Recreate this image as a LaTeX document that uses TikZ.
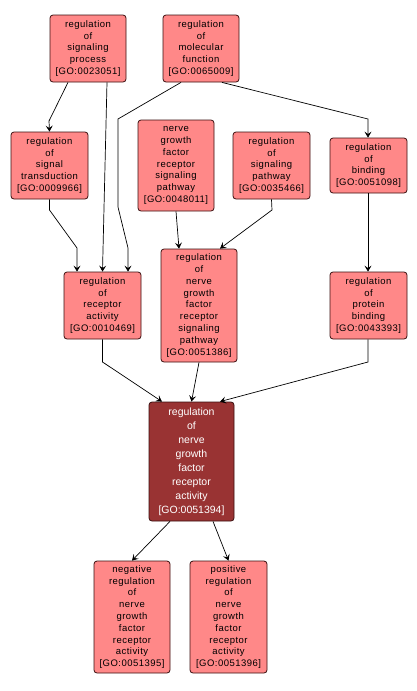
\documentclass[tikz,border=0pt]{standalone}
\usepackage{fontspec}
\setmainfont{Liberation Sans}
\newfontfamily\spacedsans[LetterSpace=5]{Liberation Sans}
\usetikzlibrary{arrows.meta}
\definecolor{lightbox}{HTML}{FF8888}
\definecolor{darkbox}{HTML}{993333}
\definecolor{boxline}{HTML}{3A1010}
\begin{document}
\begin{tikzpicture}[x=1pt,y=-1pt,
  gobox/.style={draw=boxline,line width=0.8pt,rounded corners=3pt,fill=lightbox,
    align=center,inner sep=0pt,font=\spacedsans\fontsize{9.5}{11.8}\selectfont,text=black},
  mainbox/.style={gobox,fill=darkbox,text=white,font=\rmfamily\fontsize{10.5}{14}\selectfont},
  arr/.style={draw=black,line width=0.7pt,-{Stealth[length=6pt,width=7pt,inset=2.5pt]}}]
\useasboundingbox (0,0) rectangle (417,691);
\fill[white] (0,0) rectangle (417,691);

\node[gobox,minimum width=76pt,minimum height=67pt] (A) at (88,48.5) {regulation\\of\\signaling\\process\\{[GO:0023051]}};
\node[gobox,minimum width=76pt,minimum height=67pt] (B) at (201,48.5) {regulation\\of\\molecular\\function\\{[GO:0065009]}};
\node[gobox,minimum width=77pt,minimum height=67pt] (C) at (49.5,165.5) {regulation\\of\\signal\\transduction\\{[GO:0009966]}};
\node[gobox,minimum width=76pt,minimum height=91pt] (D) at (176,165.5) {nerve\\growth\\factor\\receptor\\signaling\\pathway\\{[GO:0048011]}};
\node[gobox,minimum width=77pt,minimum height=67pt] (E) at (271.5,165.5) {regulation\\of\\signaling\\pathway\\{[GO:0035466]}};
\node[gobox,minimum width=77pt,minimum height=55pt] (F) at (368.5,165.5) {regulation\\of\\binding\\{[GO:0051098]}};
\node[gobox,minimum width=77pt,minimum height=67pt] (G) at (102.5,305.5) {regulation\\of\\receptor\\activity\\{[GO:0010469]}};
\node[gobox,minimum width=76pt,minimum height=113pt] (H) at (199,305.5) {regulation\\of\\nerve\\growth\\factor\\receptor\\signaling\\pathway\\{[GO:0051386]}};
\node[gobox,minimum width=77pt,minimum height=67pt] (I) at (368.5,305.5) {regulation\\of\\protein\\binding\\{[GO:0043393]}};
\node[mainbox,minimum width=85pt,minimum height=119pt] (J) at (191.5,461.5) {regulation\\of\\nerve\\growth\\factor\\receptor\\activity\\{[GO:0051394]}};
\node[gobox,minimum width=76pt,minimum height=112pt] (K) at (132,617) {negative\\regulation\\of\\nerve\\growth\\factor\\receptor\\activity\\{[GO:0051395]}};
\node[gobox,minimum width=77pt,minimum height=112pt] (L) at (228.5,617) {positive\\regulation\\of\\nerve\\growth\\factor\\receptor\\activity\\{[GO:0051396]}};

\draw[arr] ([xshift=-20pt]A.south) -- (49,121) -- (C.north);
\draw[arr] ([xshift=19pt]A.south) -- (103,250) -- (G.north);
\draw[arr] ([xshift=-20pt]B.south) -- (118,119) -- (118,207) -- (128,248) -- ([xshift=25.5pt]G.north);
\draw[arr] ([xshift=21pt]B.south) -- (368,119) -- ([xshift=-0.5pt]F.north);
\draw[arr] (C.south) -- (49.5,210) -- (77,248) -- ([xshift=-25.5pt]G.north);
\draw[arr] (D.south) -- ([xshift=-20pt]H.north);
\draw[arr] (E.south) -- (272,210) -- ([xshift=21pt]H.north);
\draw[arr] ([xshift=-0.5pt]F.south) -- ([xshift=-0.5pt]I.north);
\draw[arr] (G.south) -- (102.5,362) -- ([xshift=-29.5pt]J.north);
\draw[arr] (H.south) -- (J.north);
\draw[arr] ([xshift=-0.5pt]I.south) -- (368,362) -- ([xshift=28.5pt]J.north);
\draw[arr] ([xshift=-21.5pt]J.south) -- (K.north);
\draw[arr] ([xshift=21.5pt]J.south) -- (L.north);
\end{tikzpicture}
\end{document}
